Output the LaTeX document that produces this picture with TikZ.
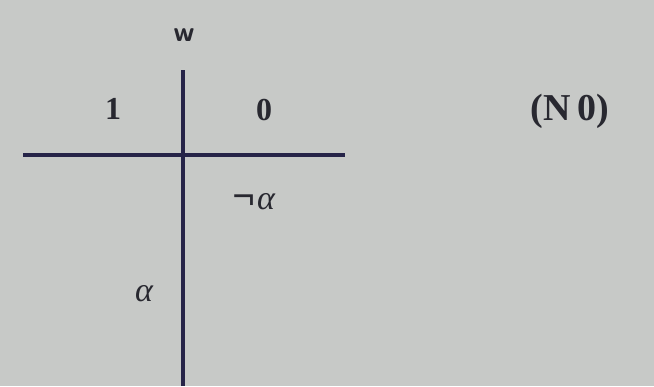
\documentclass[tikz,border=0pt]{standalone}
\usepackage{fontspec}
\setmainfont{Liberation Serif}
\definecolor{bg}{RGB}{199,201,199}
\definecolor{ink}{RGB}{38,36,72}
\definecolor{txt}{RGB}{40,40,48}
\begin{document}
\begin{tikzpicture}[x=1pt,y=-1pt,
  lbl/.style={text=txt,font=\fontsize{32}{32}\selectfont\bfseries,inner sep=0pt},
  rule/.style={draw=ink,line width=4.5pt}]
\fill[bg] (0,0) rectangle (654,386);
\useasboundingbox (0,0) rectangle (654,386);
\coordinate (vt) at (183,70);
\coordinate (vb) at (183,386);
\coordinate (hl) at (23,155);
\coordinate (hr) at (345,155);
\draw[rule] (hl) -- (hr);
\draw[rule,line width=4pt] (vt) -- (vb);
\node[lbl,font=\fontsize{28}{28}\selectfont\bfseries\sffamily] (w) at (184,35) {w};
\node[lbl] (one) at (113,109) {1};
\node[lbl] (zero) at (264,110) {0};
\node[lbl,font=\fontsize{38}{38}\selectfont\bfseries] (n0) at (570,111) {(N\,0)};
\node[lbl,font=\fontsize{34}{34}\selectfont\itshape] (na) at (254,202) {{\fontsize{40}{40}\selectfont\bfseries ¬}α};
\node[lbl,font=\fontsize{34}{34}\selectfont\itshape] (a) at (144,294) {α};
\end{tikzpicture}
\end{document}
